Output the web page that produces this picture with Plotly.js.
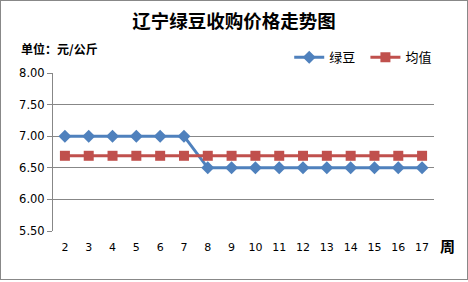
<!DOCTYPE html>
<html><head><meta charset="utf-8">
<script src="https://cdn.plot.ly/plotly-3.0.1.min.js"></script>
<style>body{margin:0;background:#fff}#c{width:466px;height:278px;border:1px solid #888;}</style>
</head><body><div id="c"></div>
<script>
const weeks = ['2','3','4','5','6','7','8','9','10','11','12','13','14','15','16','17'];
const mungBean = [7.00,7.00,7.00,7.00,7.00,7.00,6.50,6.50,6.50,6.50,6.50,6.50,6.50,6.50,6.50,6.50];
const meanVal = [6.69,6.69,6.69,6.69,6.69,6.69,6.69,6.69,6.69,6.69,6.69,6.69,6.69,6.69,6.69,6.69];
const yTicks = [5.5,6.0,6.5,7.0,7.5,8.0];
const yTickText = ['5.50','6.00','6.50','7.00','7.50','8.00'];

const traces = [
  {x: weeks, y: mungBean, name: '绿豆', type: 'scatter', mode: 'lines+markers', legend: 'legend',
   line: {color: '#4F81BD', width: 3}, marker: {symbol: 'diamond', size: 10, color: '#4F81BD'}},
  {x: weeks, y: meanVal, name: '均值', type: 'scatter', mode: 'lines+markers', legend: 'legend2',
   line: {color: '#C0504D', width: 3}, marker: {symbol: 'square', size: 10, color: '#C0504D'}}
];
const legFont = {family: 'Noto Sans CJK SC', size: 13, color: '#000'};
const layout = {
  width: 466, height: 278,
  margin: {l: 52, r: 33, t: 72, b: 48},
  paper_bgcolor: '#fff', plot_bgcolor: '#fff',
  font: {family: 'DejaVu Sans, sans-serif', size: 11, color: '#000'},
  title: {text: '<b>辽宁绿豆收购价格走势图</b>', x: 0.5, xanchor: 'center', y: 0.925, yanchor: 'middle',
          font: {family: 'Noto Sans CJK SC', size: 18.5, color: '#000'}},
  xaxis: {type: 'category', range: [-0.5, 15.5], showgrid: false, showline: false, ticks: '',
          zeroline: false, tickfont: {size: 11}, fixedrange: true, ticklabelstandoff: 8},
  yaxis: {range: [5.5, 8.0], tickvals: yTicks, ticktext: yTickText, showgrid: true,
          gridcolor: '#878787', gridwidth: 1, showline: true, linecolor: '#878787', linewidth: 1,
          ticks: 'outside', ticklen: 5, tickcolor: '#878787', zeroline: false, tickfont: {size: 11.5}},
  showlegend: true,
  legend: {orientation: 'h', x: 0.62, y: 1.10, xanchor: 'left', yanchor: 'middle',
           font: legFont, itemwidth: 30, bgcolor: 'rgba(0,0,0,0)'},
  legend2: {orientation: 'h', x: 0.82, y: 1.10, xanchor: 'left', yanchor: 'middle',
           font: legFont, itemwidth: 30, bgcolor: 'rgba(0,0,0,0)'},
  annotations: [
    {text: '<b>单位：元/公斤</b>', xref: 'paper', yref: 'paper', x: -0.09, y: 1.155, xanchor: 'left', yanchor: 'middle',
     showarrow: false, font: {family: 'Noto Sans CJK SC', size: 12, color: '#000'}},
    {text: '<b>周</b>', xref: 'paper', yref: 'paper', x: 1.01, y: -0.09, xanchor: 'left', yanchor: 'middle',
     showarrow: false, font: {family: 'Noto Sans CJK SC', size: 15, color: '#000'}}
  ]
};
Plotly.newPlot('c', traces, layout, {displayModeBar: false, staticPlot: true});
</script></body></html>
